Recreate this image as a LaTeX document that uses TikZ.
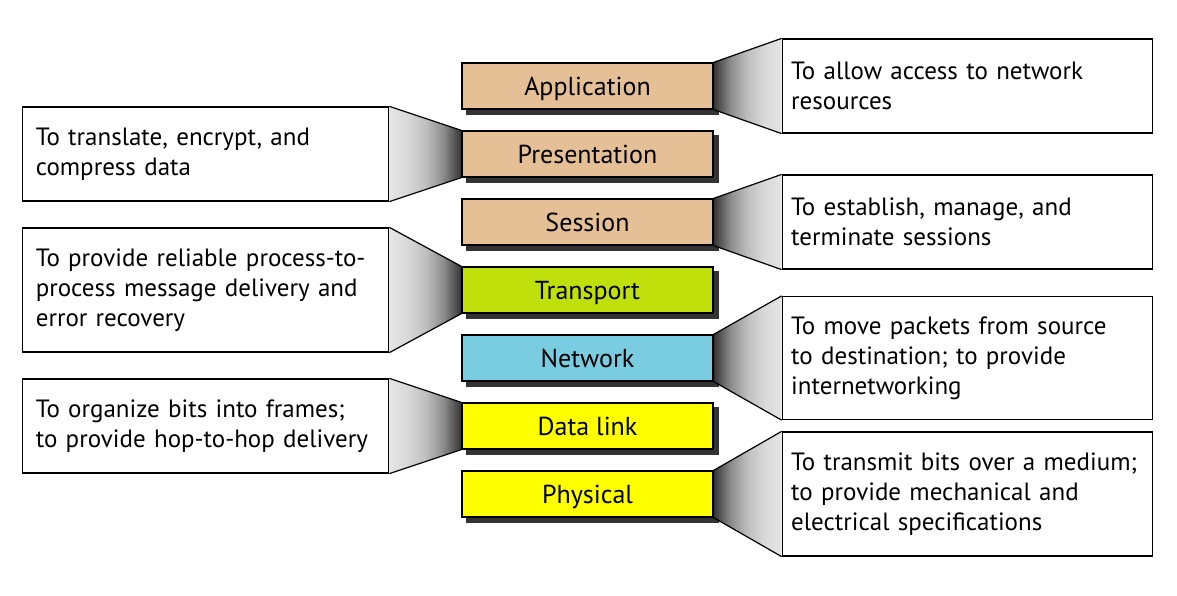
\documentclass[tikz,border=0pt]{standalone}
\usepackage{fontspec}
\setmainfont{PT Sans}
\usetikzlibrary{positioning, backgrounds}

\definecolor{layerTan}{RGB}{229,191,150}
\definecolor{layerLime}{RGB}{192,224,12}
\definecolor{layerBlue}{RGB}{122,205,225}
\definecolor{layerYellow}{RGB}{255,255,0}
\colorlet{fnA}{black!80}
\colorlet{fnB}{black!45}
\colorlet{fnC}{black!25}
\colorlet{fnD}{black!15}
\colorlet{fnE}{black!10}

% funnel shadings, dark at the layer side
\pgfdeclarehorizontalshading{funnelR}{100bp}{color(0bp)=(fnA); color(25bp)=(fnA); color(37.5bp)=(fnB); color(50bp)=(fnC); color(62.5bp)=(fnD); color(75bp)=(fnE); color(100bp)=(fnE)}
\pgfdeclarehorizontalshading{funnelL}{100bp}{color(0bp)=(fnE); color(25bp)=(fnE); color(37.5bp)=(fnD); color(50bp)=(fnC); color(62.5bp)=(fnB); color(75bp)=(fnA); color(100bp)=(fnA)}

\begin{document}
\begin{tikzpicture}[x=1pt, y=-1pt,
		layerbox/.style={draw, line width=1.2pt, minimum width=251pt, minimum height=46pt, inner sep=0pt, text height=18pt, text depth=0pt, font=\fontsize{26}{30}\selectfont},
		descbox/.style={draw, line width=1.2pt, fill=white, align=left, font=\fontsize{25}{30}\selectfont},
		descR/.style={descbox, inner xsep=9pt, minimum width=370pt, text width=352pt, right=68pt of #1},
		descL/.style={descbox, inner xsep=13pt, minimum width=366pt, text width=340pt, left=72pt of #1},
	]
	\useasboundingbox (0,0) rectangle (1177,595);

	% the seven layers
	\foreach \name/\txt/\col [count=\i from 0] in {app/Application/layerTan, pres/Presentation/layerTan, sess/Session/layerTan, trans/Transport/layerLime, net/Network/layerBlue, dlink/Data link/layerYellow, phys/Physical/layerYellow}
		\node [layerbox, fill=\col] (\name) at (587.5, {86+68*\i}) {\txt};

	% what each layer does
	\node [descR=app, minimum height=94pt] (appD) {To allow access to network\\resources};
	\node [descL=pres, minimum height=94pt] (presD) {To translate, encrypt, and\\compress data};
	\node [descR=sess, minimum height=94pt] (sessD) {To establish, manage, and\\terminate sessions};
	\node [descL=trans, minimum height=124pt] (transD) {To provide reliable process-to-\\process message delivery and\\error recovery};
	\node [descR=net, minimum height=123pt] (netD) {To move packets from source\\to destination; to provide\\internetworking};
	\node [descL=dlink, minimum height=94pt] (dlinkD) {To organize bits into frames;\\to provide hop-to-hop delivery};
	\node [descR=phys, minimum height=124pt] (physD) {To transmit bits over a medium;\\to provide mechanical and\\electrical specifications};

	\begin{pgfonlayer}{background}
		\foreach \name in {app, pres, sess, trans, net, dlink, phys}
			\fill [black!80] ([shift={(5,5)}]\name.north west) rectangle ([shift={(5,5)}]\name.south east);

		\foreach \name in {app, sess, net, phys}
			\shade [shading=funnelR] (\name.north east) -- (\name D.north west) -- (\name D.south west) -- (\name.south east) -- cycle;
		\foreach \name in {pres, trans, dlink}
			\shade [shading=funnelL] (\name D.north east) -- (\name.north west) -- (\name.south west) -- (\name D.south east) -- cycle;
	\end{pgfonlayer}

	\begin{scope}[line width=1.2pt]
		\foreach \name in {app, sess, net, phys} {
			\draw (\name.north east) -- (\name D.north west);
			\draw (\name.south east) -- (\name D.south west);
		}
		\foreach \name in {pres, trans, dlink} {
			\draw (\name D.north east) -- (\name.north west);
			\draw (\name D.south east) -- (\name.south west);
		}
	\end{scope}
\end{tikzpicture}
\end{document}
